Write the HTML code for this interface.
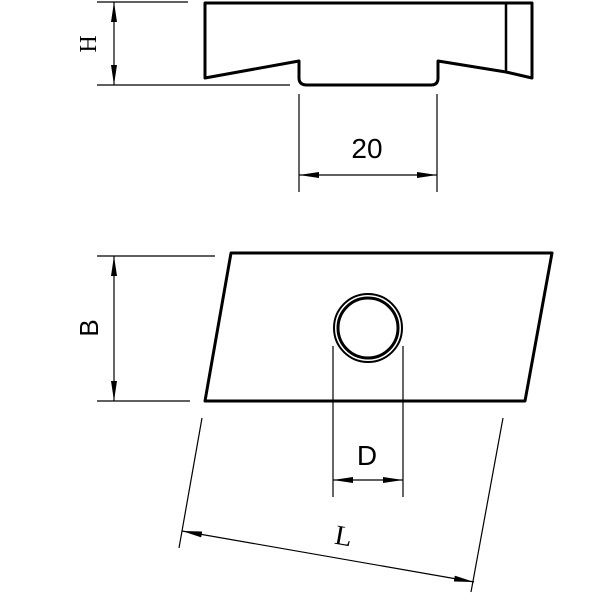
<!DOCTYPE html>
<html><head><style>html,body{margin:0;padding:0;background:#fff}</style></head>
<body>
<svg width="600" height="600" viewBox="0 0 600 600" xmlns="http://www.w3.org/2000/svg">
<defs>
<marker id="a" viewBox="0 0 20 6" refX="20" refY="3" markerWidth="20" markerHeight="6" markerUnits="userSpaceOnUse" orient="auto-start-reverse"><path d="M0,0 L20,3 L0,6 z" fill="#000"/></marker>
</defs>
<g fill="none" stroke="#000">
<!-- top view -->
<path d="M205,3 H532 V78 L506,72 L438,61 V78 Q438,85 431,85 H307 Q299,85 299,78 V61 L205,78 Z" stroke-width="3" stroke-linejoin="round"/>
<line x1="506" y1="3" x2="506" y2="72" stroke-width="2.5"/>
<line x1="97" y1="2" x2="188" y2="2" stroke-width="1.2"/>
<line x1="97" y1="85" x2="290" y2="85" stroke-width="1.2"/>
<line x1="114" y1="85" x2="114" y2="2" stroke-width="1.2" marker-start="url(#a)" marker-end="url(#a)"/>
<line x1="299" y1="94" x2="299" y2="192" stroke-width="1.2"/>
<line x1="437" y1="94" x2="437" y2="192" stroke-width="1.2"/>
<line x1="299" y1="175" x2="437" y2="175" stroke-width="1.2" marker-start="url(#a)" marker-end="url(#a)"/>
<!-- bottom view -->
<path d="M231,253 H552 L525,401 H205 Z" stroke-width="3" stroke-linejoin="round"/>
<circle cx="368" cy="328" r="34" stroke-width="2"/>
<circle cx="368" cy="328" r="30" stroke-width="3"/>
<line x1="97" y1="256" x2="215" y2="256" stroke-width="1.2"/>
<line x1="97" y1="401" x2="190" y2="401" stroke-width="1.2"/>
<line x1="114" y1="401" x2="114" y2="256" stroke-width="1.2" marker-start="url(#a)" marker-end="url(#a)"/>
<line x1="333" y1="346" x2="333" y2="497" stroke-width="1.2"/>
<line x1="403" y1="346" x2="403" y2="497" stroke-width="1.2"/>
<line x1="333" y1="480" x2="403" y2="480" stroke-width="1.2" marker-start="url(#a)" marker-end="url(#a)"/>
<line x1="202" y1="418" x2="179" y2="548" stroke-width="1.2"/>
<line x1="503" y1="418" x2="471" y2="592" stroke-width="1.2"/>
<line x1="182" y1="531" x2="474" y2="582" stroke-width="1.2" marker-start="url(#a)" marker-end="url(#a)"/>
</g>
<g font-family="Liberation Sans, sans-serif" fill="#000">
<text x="367" y="158" font-size="28" text-anchor="middle">20</text>
<text x="367" y="465" font-size="28" text-anchor="middle">D</text>
<text transform="translate(96,44) rotate(-90)" font-family="Liberation Serif, serif" font-size="24" text-anchor="middle">H</text>
<text transform="translate(98,328) rotate(-90)" font-size="26" text-anchor="middle">B</text>
<text transform="translate(342,545) rotate(10)" font-family="Liberation Serif, serif" font-size="28" text-anchor="middle">L</text>
</g>
</svg>
</body></html>
